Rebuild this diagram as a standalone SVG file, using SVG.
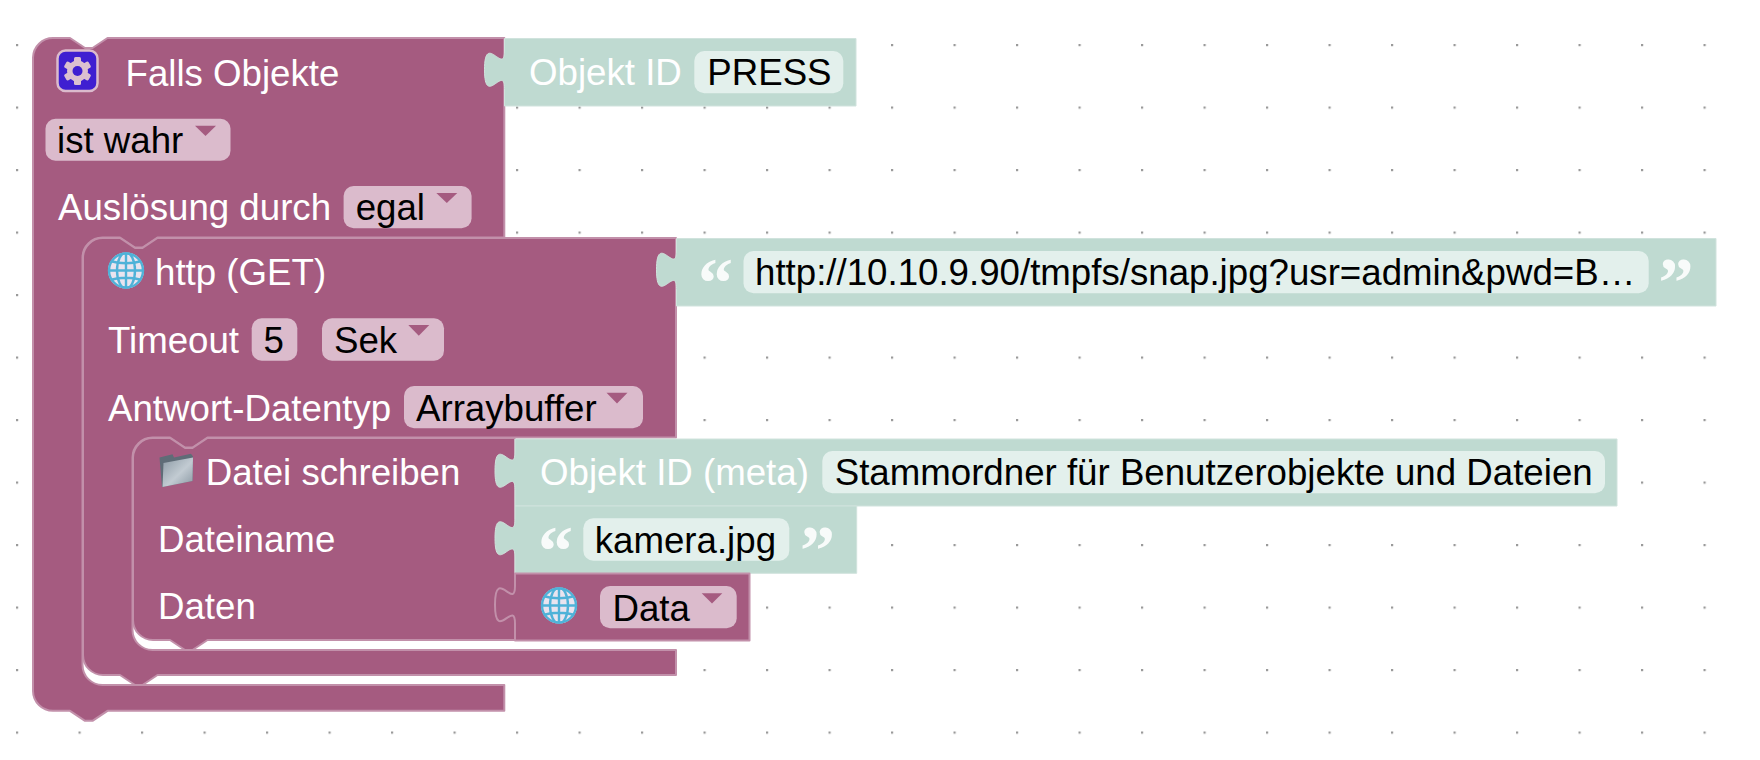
<svg xmlns="http://www.w3.org/2000/svg" width="1760" height="760" viewBox="0 0 1760 760">
<style>
.block{fill:#a55b80;stroke:#c290aa;stroke-width:2;stroke-linejoin:round}
.value{fill:#bfdad1;stroke:#d0e3dd;stroke-width:1}
.field{fill:#dbbbcc}
.gfield{fill:#e3f0ec}
.arrow{fill:#a55b80}
text{font-family:"Liberation Sans",Arial,sans-serif;font-size:36.67px}
.lbl{fill:#fff}
.val{fill:#000}
.quote{fill:#fff;font-family:"Liberation Serif","Times New Roman",serif;font-size:70px;font-weight:bold;opacity:.9}
</style>
<defs>
<pattern id="grid" x="16" y="44" width="62.5" height="62.5" patternUnits="userSpaceOnUse"><rect width="2.2" height="2.2" fill="#999"/></pattern>
<clipPath id="gc"><circle cx="18" cy="18" r="18"/></clipPath>
<linearGradient id="fg" x1="0" y1="0" x2="1" y2="1"><stop offset="0" stop-color="#8c9aa5"/><stop offset=".55" stop-color="#c2cbd2"/><stop offset="1" stop-color="#8a98a3"/></linearGradient>
<g id="globe"><circle cx="18" cy="18" r="18" fill="#e9e4ef"/><g clip-path="url(#gc)" fill="none" stroke="#4fb2d8" stroke-width="2.4"><ellipse cx="18" cy="18" rx="9" ry="18"/><path d="M18,0V36M0,18H36M2,8.5Q18,13 34,8.5M2,27.5Q18,23 34,27.5"/></g><circle cx="18" cy="18" r="17" fill="none" stroke="#4fb2d8" stroke-width="2.4"/></g>
</defs>
<rect id="workspace-grid" width="1760" height="760" fill="url(#grid)"/>
<g id="connectors"/>
<g id="block-falls-objekte">
<path class="block" d="M33,57.5A20,20 0 0 1 53,38H70l15,10 7.5,0 15,-10H504.3V237.5H157.5l-15,10 -7.5,0 -15,-10H102.5a20,20 0 0 0 -20,20V665a20,20 0 0 0 20,20H504.3V710.8H107.5l-15,10 -7.5,0 -15,-10H53A20,20 0 0 1 33,691Z"/>
<rect x="57.5" y="50.5" width="40" height="40.5" rx="8" fill="#3f1fd1" stroke="#dbbbcc" stroke-width="2.5"/>
<g transform="translate(77.5,71)" fill="#dcc0d0"><circle r="10.5"/><rect x="-3.5" y="-14" width="7" height="28" rx="1.5"/><rect x="-3.5" y="-14" width="7" height="28" rx="1.5" transform="rotate(60)"/><rect x="-3.5" y="-14" width="7" height="28" rx="1.5" transform="rotate(120)"/><circle r="5" fill="#3f1fd1"/></g>
<text class="lbl" x="125.5" y="85.5">Falls Objekte</text>
<rect class="field" x="45.5" y="118.7" width="185" height="42" rx="10"/>
<text class="val" x="57" y="153">ist wahr</text>
<path class="arrow" d="M195,125.7H216L205.5,136Z"/>
<text class="lbl" x="58" y="219.5">Auslösung durch</text>
<rect class="field" x="343.6" y="186" width="128" height="42.3" rx="10"/>
<text class="val" x="355.7" y="219.5">egal</text>
<path class="arrow" d="M436.3,193H457.3L446.8,203Z"/>
</g>
<g id="block-objekt-id">
<path class="value" d="M504.5,38.5H856V106H504.5V88.5c0,-25 -20,20 -20,-18.75s20,6.25 20,-18.75Z"/>
<text class="lbl" x="529" y="84.8">Objekt ID</text>
<rect class="gfield" x="694.3" y="51" width="149" height="42.3" rx="10"/>
<text class="val" x="707.3" y="84.8">PRESS</text>
</g>
<g id="block-http-get">
<path class="block" d="M83,257.5A20,20 0 0 1 103,238H120l15,10 7.5,0 15,-10H676V437.5H207.5l-15,10 -7.5,0 -15,-10H152.5a20,20 0 0 0 -20,20V630a20,20 0 0 0 20,20H676V675H157.5l-15,10 -7.5,0 -15,-10H103A20,20 0 0 1 83,655Z"/>
<use href="#globe" x="108" y="252.5"/>
<text class="lbl" x="155" y="284.8">http (GET)</text>
<text class="lbl" x="108" y="353">Timeout</text>
<rect class="field" x="251.7" y="318.3" width="45.6" height="42.4" rx="10"/>
<text class="val" x="263.5" y="353">5</text>
<rect class="field" x="322" y="318.3" width="122" height="42.4" rx="10"/>
<text class="val" x="334" y="353">Sek</text>
<path class="arrow" d="M408.3,325H429.3L418.8,335.7Z"/>
<text class="lbl" x="108" y="420.5">Antwort-Datentyp</text>
<rect class="field" x="404" y="386" width="239" height="42.3" rx="10"/>
<text class="val" x="416" y="420.5">Arraybuffer</text>
<path class="arrow" d="M606.5,392.7H627.5L617,403.4Z"/>
</g>
<g id="block-url">
<path class="value" d="M676.5,238.5H1716V306H676.5V288.5c0,-25 -20,20 -20,-18.75s20,6.25 20,-18.75Z"/>
<text class="quote" x="698" y="306">“</text>
<rect class="gfield" x="743.5" y="251" width="905.2" height="42.3" rx="10"/>
<text class="val" x="755" y="284.8">http://10.10.9.90/tmpfs/snap.jpg?usr=admin&amp;pwd=B…</text>
<text class="quote" x="1658.5" y="306">”</text>
</g>
<g id="block-datei-schreiben">
<path class="block" d="M133,457.5A20,20 0 0 1 153,438H170l15,10 7.5,0 15,-10H515V640H207.5l-15,10 -7.5,0 -15,-10H153A20,20 0 0 1 133,620Z"/>
<g id="folder-icon"><path d="M159.5,457.5L172.5,454.3L174,457.5L191,453.8L193,456.5L192.5,481L162,487Z" fill="#5f6c77"/><path d="M163.5,463L193,457.5L192.5,481L162.5,487Z" fill="url(#fg)"/></g>
<text class="lbl" x="205.7" y="484.5">Datei schreiben</text>
<text class="lbl" x="158" y="552">Dateiname</text>
<text class="lbl" x="158" y="618.8">Daten</text>
</g>
<g id="block-objekt-id-meta">
<path class="value" d="M515,439H1617V506H515V489.5c0,-25 -20,20 -20,-18.75s20,6.25 20,-18.75Z"/>
<text class="lbl" x="540" y="484.8">Objekt ID (meta)</text>
<rect class="gfield" x="822.3" y="451" width="782.7" height="42.3" rx="10"/>
<text class="val" x="834.7" y="484.8">Stammordner für Benutzerobjekte und Dateien</text>
</g>
<g id="block-kamera">
<path class="value" d="M515,506H856.7V573.3H515V557c0,-25 -20,20 -20,-18.75s20,6.25 20,-18.75Z"/>
<text class="quote" x="538" y="574">“</text>
<rect class="gfield" x="583.3" y="518.3" width="206" height="42.4" rx="10"/>
<text class="val" x="594.7" y="553">kamera.jpg</text>
<text class="quote" x="800" y="574">”</text>
</g>
<g id="block-data">
<path class="block" d="M515,573.5H749.5V640.5H515V623.5c0,-25 -20,20 -20,-18.75s20,6.25 20,-18.75Z"/>
<use href="#globe" x="541" y="587.5"/>
<rect class="field" x="600" y="586" width="136.7" height="42.3" rx="10"/>
<text class="val" x="612.5" y="620.5">Data</text>
<path class="arrow" d="M701.7,593.3H722.3L712,603.5Z"/>
</g>
</svg>
